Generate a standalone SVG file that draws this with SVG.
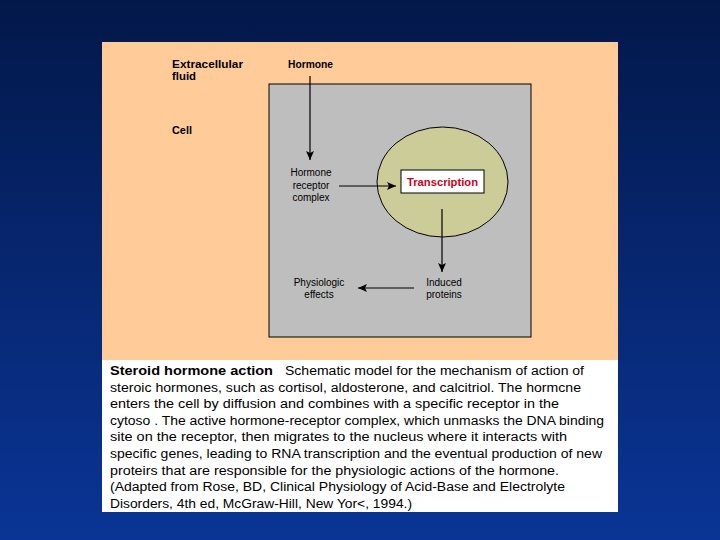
<svg xmlns="http://www.w3.org/2000/svg" width="720" height="540" viewBox="0 0 720 540">
<defs>
<linearGradient id="bg" x1="0" y1="0" x2="0" y2="1">
<stop offset="0" stop-color="#03184a"/>
<stop offset="1" stop-color="#0a3596"/>
</linearGradient>
<marker id="ah" markerWidth="10" markerHeight="10" refX="9" refY="4" orient="auto" markerUnits="userSpaceOnUse">
<path d="M0,0 L9,4 L0,8 L2,4 Z" fill="#000"/>
</marker>
<style>
.lbl{font-family:"Liberation Sans",Arial,sans-serif;font-size:10px;fill:#000}
.b{font-weight:bold}
.c{text-anchor:middle}
.cap{font-family:"Liberation Sans",Arial,sans-serif;font-size:12px;fill:#000}
.conn{stroke:#000;stroke-width:1.2;fill:none;marker-end:url(#ah)}
</style>
</defs>
<rect x="0" y="0" width="720" height="540" fill="url(#bg)"/>
<rect x="102" y="42" width="516" height="318" fill="#ffcc99"/>
<rect x="102" y="360" width="516" height="152" fill="#ffffff"/>

<g id="labels-outside">
<text class="lbl b" x="172" y="68" textLength="71" lengthAdjust="spacingAndGlyphs">Extracellular</text>
<text class="lbl b" x="172" y="80" textLength="24" lengthAdjust="spacingAndGlyphs">fluid</text>
<text class="lbl b" x="172" y="134" textLength="20" lengthAdjust="spacingAndGlyphs">Cell</text>
</g>
<g id="hormone"><text class="lbl b" x="288" y="68" textLength="45" lengthAdjust="spacingAndGlyphs">Hormone</text></g>

<g id="cell"><rect x="269" y="84" width="262" height="253" fill="#bebebe" stroke="#000" stroke-width="1"/></g>
<g id="nucleus"><ellipse cx="442.5" cy="182" rx="65.5" ry="55" fill="#cccc99" stroke="#000" stroke-width="1"/></g>

<g id="transcription">
<rect x="401" y="170" width="83" height="23" fill="#fff" stroke="#000" stroke-width="1"/>
<text class="lbl b" x="407" y="186" textLength="71" lengthAdjust="spacingAndGlyphs" style="fill:#cc0022">Transcription</text>
</g>

<g id="hormone-receptor-complex">
<text class="lbl c" x="311" y="176">Hormone</text>
<text class="lbl c" x="311" y="189">receptor</text>
<text class="lbl c" x="311" y="201">complex</text>
</g>

<g id="induced-proteins">
<text class="lbl c" x="444" y="286">Induced</text>
<text class="lbl c" x="444" y="298">proteins</text>
</g>

<g id="physiologic-effects">
<text class="lbl c" x="319" y="286">Physiologic</text>
<text class="lbl c" x="319" y="298">effects</text>
</g>

<g id="connectors">
<line class="conn" x1="310" y1="76" x2="310" y2="160"/>
<line class="conn" x1="339" y1="186" x2="396" y2="186"/>
<line class="conn" x1="442" y1="209" x2="442" y2="272"/>
<line class="conn" x1="414" y1="288" x2="358" y2="288"/>
</g>

<g id="caption">
<text class="cap b" x="110" y="375" textLength="163" lengthAdjust="spacingAndGlyphs">Steroid hormone action</text>
<text class="cap" x="285" y="375" textLength="299" lengthAdjust="spacingAndGlyphs">Schematic model for the mechanism of action of</text>
<text class="cap" x="110" y="391.5" textLength="471" lengthAdjust="spacingAndGlyphs">steroic hormones, such as cortisol, aldosterone, and calcitriol. The hormcne</text>
<text class="cap" x="110" y="408" textLength="449" lengthAdjust="spacingAndGlyphs">enters the cell by diffusion and combines with a specific receptor in the</text>
<text class="cap" x="110" y="424.5" textLength="494" lengthAdjust="spacingAndGlyphs">cytoso . The active hormone-receptor complex, which unmasks the DNA binding</text>
<text class="cap" x="110" y="441" textLength="457" lengthAdjust="spacingAndGlyphs">site on the receptor, then migrates to the nucleus where it interacts with</text>
<text class="cap" x="110" y="458" textLength="492" lengthAdjust="spacingAndGlyphs">specific genes, leading to RNA transcription and the eventual production of new</text>
<text class="cap" x="110" y="474.5" textLength="449" lengthAdjust="spacingAndGlyphs">proteirs that are responsible for the physiologic actions of the hormone.</text>
<text class="cap" x="110" y="491" textLength="455" lengthAdjust="spacingAndGlyphs">(Adapted from Rose, BD, Clinical Physiology of Acid-Base and Electrolyte</text>
<text class="cap" x="110" y="507.5" textLength="302" lengthAdjust="spacingAndGlyphs">Disorders, 4th ed, McGraw-Hill, New Yor&lt;, 1994.)</text>
</g>
</svg>
